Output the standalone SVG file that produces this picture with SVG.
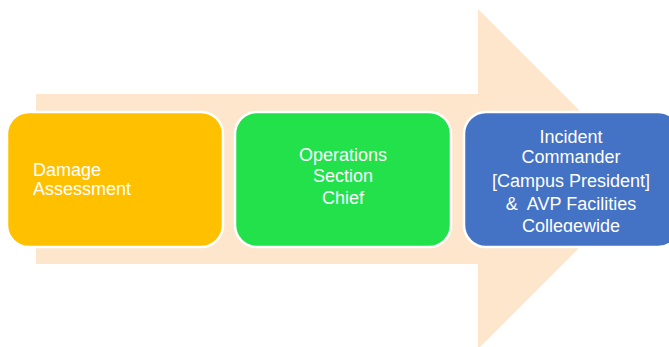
<svg xmlns="http://www.w3.org/2000/svg" width="669" height="347" viewBox="0 0 669 347">
  <defs>
    <style>
      .box { stroke: #ffffff; stroke-width: 2.5; }
      .lbl { fill: #ffffff; font-family: "Liberation Sans", Arial, sans-serif; font-size: 18px; }
      .mid { text-anchor: middle; }
    </style>
    <clipPath id="blueClip">
      <rect x="462" y="110" width="220" height="122"/>
    </clipPath>
  </defs>

  <!-- background block arrow -->
  <g id="connectors">
    <polygon points="36,94 478,94 478,9 648,179 478,349 478,264 36,264" fill="#FDE6CB"/>
  </g>

  <g id="node-damage">
    <rect class="box" x="7" y="112" width="216" height="135" rx="22" fill="#FFC000"/>
    <text class="lbl" x="33" y="176">Damage</text>
    <text class="lbl" x="33" y="195">Assessment</text>
  </g>

  <g id="node-operations">
    <rect class="box" x="235" y="112" width="216" height="135" rx="22" fill="#23E14B"/>
    <text class="lbl mid" x="343" y="161">Operations</text>
    <text class="lbl mid" x="343" y="182">Section</text>
    <text class="lbl mid" x="343" y="204">Chief</text>
  </g>

  <g id="node-commander">
    <rect class="box" x="464" y="112" width="216" height="135" rx="22" fill="#4472C4"/>
    <g clip-path="url(#blueClip)">
      <text class="lbl mid" x="571" y="143">Incident</text>
      <text class="lbl mid" x="571" y="163">Commander</text>
      <text class="lbl mid" x="571" y="187">[Campus President]</text>
      <text class="lbl mid" x="571" y="210" xml:space="preserve">&amp;  AVP Facilities</text>
      <text class="lbl mid" x="571" y="232">Collegewide</text>
    </g>
  </g>
</svg>
